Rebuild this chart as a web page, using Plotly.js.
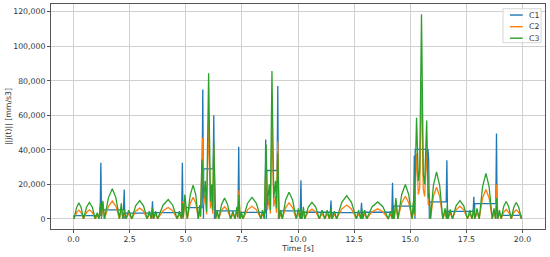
<!DOCTYPE html>
<html>
<head>
<meta charset="utf-8">
<script src="https://cdn.plot.ly/plotly-3.0.1.min.js"></script>
<style>
html,body{margin:0;padding:0;background:#fff;}
#chart{width:550px;height:257px;}
</style>
</head>
<body>
<div id="chart"></div>
<script>
// C1: piecewise-constant jerk with boundary spikes
const timeC1 = [0.02,0.03,1.19,1.22,1.25,1.26,2.23,2.26,2.29,2.30,3.49,3.52,3.55,3.56,4.82,4.85,4.88,4.89,5.72,5.76,5.79,5.80,6.22,6.25,6.28,6.29,7.33,7.36,7.39,7.40,8.53,8.56,8.59,8.60,9.07,9.10,9.13,9.14,10.10,10.13,10.16,10.17,11.44,11.47,11.50,11.51,12.80,12.83,12.86,12.87,14.18,14.21,14.24,14.25,15.15,15.18,15.21,15.22,15.79,15.82,15.85,15.86,16.60,16.63,16.66,16.67,17.80,17.83,17.86,17.87,18.81,18.84,18.87,18.88,19.93,19.95];
const c1 = [0,1800,1800,32500,0,5200,5200,17000,0,3300,3300,10200,0,3600,3600,32500,0,6500,6500,75000,0,29000,29000,60000,0,4600,4600,41700,0,3700,3700,46000,0,28000,28000,77000,0,4600,4600,22400,0,3800,3800,10600,0,3600,3600,9300,0,3800,3800,20900,0,7300,7300,36700,0,40200,40200,34000,0,9800,9800,34000,0,4300,4300,12800,0,8800,8800,49500,0,2000,2000,0];

// C2 and C3 share the same sample times
const timeC23 = [0.02,0.14,0.24,0.34,0.45,0.58,0.71,0.84,0.97,1.06,1.14,1.20,1.25,1.31,1.38,1.56,1.73,1.89,2.05,2.13,2.20,2.27,2.34,2.46,2.60,2.77,2.95,3.12,3.28,3.38,3.47,3.52,3.57,3.66,3.75,3.99,4.22,4.42,4.62,4.72,4.81,4.86,4.89,4.96,5.07,5.20,5.33,5.45,5.56,5.62,5.66,5.72,5.75,5.80,5.87,5.93,6.02,6.10,6.16,6.20,6.25,6.33,6.40,6.47,6.60,6.73,6.86,7.00,7.10,7.20,7.28,7.32,7.37,7.42,7.48,7.55,7.75,7.95,8.15,8.35,8.42,8.50,8.58,8.64,8.72,8.77,8.84,8.92,9.00,9.04,9.10,9.16,9.23,9.30,9.45,9.60,9.76,9.92,10.02,10.10,10.14,10.18,10.24,10.30,10.46,10.62,10.79,10.95,11.07,11.20,11.30,11.40,11.47,11.52,11.62,11.72,11.95,12.17,12.38,12.60,12.70,12.80,12.84,12.88,12.97,13.06,13.30,13.55,13.78,14.02,14.12,14.20,14.24,14.28,14.36,14.45,14.62,14.78,14.93,15.08,15.14,15.18,15.28,15.36,15.42,15.50,15.58,15.64,15.73,15.80,15.84,15.90,16.03,16.17,16.31,16.45,16.55,16.62,16.65,16.68,16.78,16.88,17.04,17.21,17.38,17.55,17.65,17.75,17.83,17.88,17.97,18.07,18.22,18.37,18.51,18.65,18.73,18.80,18.85,18.90,18.97,19.05,19.16,19.27,19.38,19.50,19.61,19.72,19.83,19.95];
const c2 = [0,3550,5000,3550,0,3700,5200,3700,0,2000,0,7000,1000,9000,0,7200,10200,7200,0,6000,0,3200,0,3000,0,4400,6200,4400,0,2600,0,4000,0,2600,0,4700,6600,4700,0,2600,0,10000,500,8500,0,8900,12500,8900,0,5000,1000,30000,47000,8000,14000,2500,57200,6000,12000,3000,42000,0,3000,0,5000,7000,5000,0,2600,0,5000,500,16600,0,2400,0,5200,7300,5200,0,3000,0,35000,5000,12000,3000,56600,7000,13000,3500,45000,0,3000,0,6500,9200,6500,0,3500,0,4000,0,4200,0,4000,5600,4000,0,3000,0,3000,0,3500,0,2700,0,5700,8000,5700,0,3000,0,3500,0,3000,0,4100,5800,4100,0,2700,0,3500,0,7000,0,9300,13100,9300,0,6000,2000,38000,14000,18000,79800,17000,13000,40000,8000,10000,0,13000,18300,13000,0,3500,0,5000,0,3300,0,5200,7300,5200,0,3000,0,4500,0,3600,0,12100,17000,12100,0,3500,0,19900,0,3000,0,3800,5400,3800,0,3700,5200,3700,0];
const c3 = [0,6600,9300,6600,0,6700,9500,6700,0,3500,0,9000,1500,10500,0,12300,17400,12300,0,9000,0,5500,0,5000,0,7500,10600,7500,0,4500,0,6500,0,4500,0,7900,11200,7900,0,4500,0,9000,1000,14000,0,13800,19500,13800,0,8000,1500,34400,30000,12000,22000,4000,84300,10000,20000,5000,44400,0,5000,0,8500,12000,8500,0,4500,0,7000,1000,14000,0,4000,0,8900,12500,8900,0,5000,0,43000,8000,20000,5000,85600,12000,22000,6000,38000,0,5000,0,10900,15400,10900,0,6000,0,6000,0,7000,0,6800,9600,6800,0,5000,0,5000,0,6000,0,4500,0,9600,13500,9600,0,5000,0,6000,0,5000,0,7000,9800,7000,0,4500,0,6000,0,12000,0,14100,19900,14100,0,10000,3000,58600,22000,28000,118500,26000,20000,57000,12000,15000,0,19300,27200,19300,0,6000,0,8000,0,5500,0,7500,10600,7500,0,5000,0,7000,0,6000,0,18700,26300,18700,0,6000,0,12000,0,5000,0,7100,10000,7100,0,6700,9500,6700,0];

const seriesNames = ['C1','C2','C3'];
const seriesColors = ['#1f77b4','#ff7f0e','#2ca02c'];
const xTickVals = [0,2.5,5,7.5,10,12.5,15,17.5,20];
const yTickVals = [0,20000,40000,60000,80000,100000,120000];

const font = {family:'DejaVu Sans, sans-serif', size:7.8, color:'#333'};

const traces = [
  {x:timeC1, y:c1, name:seriesNames[0]},
  {x:timeC23, y:c2, name:seriesNames[1]},
  {x:timeC23, y:c3, name:seriesNames[2]}
].map((t,i)=>Object.assign(t,{type:'scatter',mode:'lines',line:{color:seriesColors[i],width:1.3},hoverinfo:'skip'}));

// compact matplotlib-style legend box
const shapes = [{type:'rect',xref:'paper',yref:'paper',x0:0.915,x1:0.992,y0:0.828,y1:0.979,
  line:{color:'#d6d6d6',width:1},fillcolor:'rgba(255,255,255,0.85)',layer:'above'}];
const annotations = [];
const rowsY = [0.951,0.899,0.848];
seriesNames.forEach((n,i)=>{
  shapes.push({type:'line',xref:'paper',yref:'paper',x0:0.929,x1:0.955,y0:rowsY[i],y1:rowsY[i],
    line:{color:seriesColors[i],width:1.4},layer:'above'});
  annotations.push({xref:'paper',yref:'paper',x:0.963,y:rowsY[i],text:n,showarrow:false,
    xanchor:'left',yanchor:'middle',font:font});
});

const layout = {
  width:550, height:257,
  margin:{l:51,r:5,t:4,b:28},
  paper_bgcolor:'#fff', plot_bgcolor:'#fff',
  showlegend:false,
  font:font,
  xaxis:{range:[-1,21], tickvals:xTickVals, tickformat:'.1f', ticks:'outside', ticklen:3, tickcolor:'#555',
    showgrid:true, gridcolor:'#d0d0d0', gridwidth:1, zeroline:false,
    showline:true, linecolor:'#555', linewidth:1, mirror:true,
    title:{text:'Time [s]', font:font, standoff:2}, tickfont:font},
  yaxis:{range:[-5900,124500], tickvals:yTickVals, tickformat:',d', ticks:'outside', ticklen:3, tickcolor:'#555',
    showgrid:true, gridcolor:'#d0d0d0', gridwidth:1, zeroline:false,
    showline:true, linecolor:'#555', linewidth:1, mirror:true,
    title:{text:'||j(t)|| [mm/s3]', font:font, standoff:0}, tickfont:font},
  shapes:shapes, annotations:annotations
};

Plotly.newPlot('chart', traces, layout, {staticPlot:true, displayModeBar:false});
</script>
</body>
</html>
